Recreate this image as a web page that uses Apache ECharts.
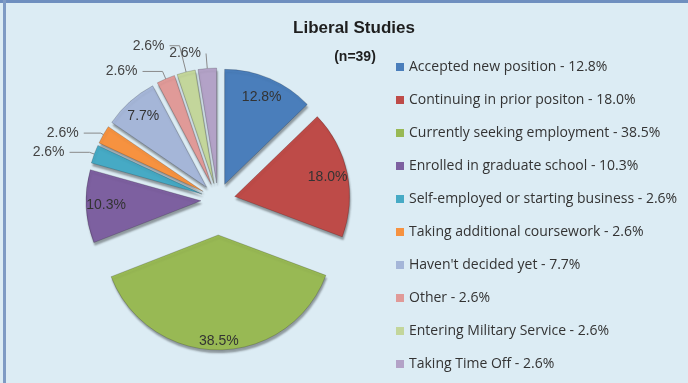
<!DOCTYPE html>
<html><head><meta charset="utf-8">
<script src="https://cdn.jsdelivr.net/npm/echarts@6/dist/echarts.min.js"></script>
<style>html,body{margin:0;padding:0;background:#dcecf4;}#c{width:688px;height:383px;}</style>
</head><body><div id="c"></div>
<script>
const categories = ["Accepted new position","Continuing in prior positon","Currently seeking employment","Enrolled in graduate school","Self-employed or starting business","Taking additional coursework","Haven't decided yet","Other","Entering Military Service","Taking Time Off"];
const values = [12.8,18.0,38.5,10.3,2.6,2.6,7.7,2.6,2.6,2.6];
const colors = ["#4a7ebb","#be4b48","#98b954","#7d60a0","#46aac5","#f69240","#a5b6d8","#e09a98","#c3d69b","#b3a2c7"];
const insideLabels = [true,true,true,true,false,false,true,false,false,false];
const farSlice = [false,false,true,false,false,false,false,false,false,false]; // exploded further
// leader-line lengths [radial, horizontal] for outside labels
const leaderLen = [[0,0],[0,0],[0,0],[0,0],[5,20],[3,17],[0,0],[8,20],[27,10],[15,0]];

const R = 115, CX = 218, CY = 200, OFF_NEAR = 17, OFF_FAR = 35;
const fmt = p => p.value.toFixed(1) + '%';
const labelFont = {fontFamily:'Liberation Sans', fontSize:14, color:'#333'};

function sliceSeries(far){
  return {
    type:'pie', center:[CX,CY], radius:[0,R], startAngle:90, clockwise:true, silent:true,
    selectedMode:'multiple', selectedOffset: far ? OFF_FAR : OFF_NEAR,
    avoidLabelOverlap:false,
    emphasis:{disabled:true},
    label:Object.assign({formatter:fmt}, labelFont, {color:'#444'}),
    labelLine:{length:10,length2:10,lineStyle:{color:'#8a8a8a'}},
    labelLayout:{hideOverlap:false},
    data: categories.map((n,i)=>{
      const mine = farSlice[i] === far;
      return {
        name:n, value:values[i], selected:true,
        itemStyle: mine ? {color:colors[i], borderColor:'rgba(0,0,0,0.18)', borderWidth:1,
                           shadowColor:'rgba(0,0,0,0.35)', shadowBlur:2, shadowOffsetX:1, shadowOffsetY:3}
                        : {color:'transparent', borderWidth:0},
        label:{show: mine && !insideLabels[i], position:'outside'},
        labelLine:{show: mine && !insideLabels[i], length:leaderLen[i][0], length2:leaderLen[i][1]}
      };
    })
  };
}
function labelSeries(far){
  return {
    type:'pie', center:[CX,CY], radius: far ? [R*0.7,R*1.1] : [R*0.55,R*1.05], startAngle:90, clockwise:true, silent:true,
    selectedMode:'multiple', selectedOffset: far ? OFF_FAR : OFF_NEAR,
    avoidLabelOverlap:false,
    emphasis:{disabled:true}, z:5,
    label:Object.assign({formatter:fmt, position:'inside'}, labelFont),
    labelLine:{show:false},
    itemStyle:{color:'transparent', borderWidth:0},
    data: categories.map((n,i)=>({
      name:n, value:values[i], selected:true,
      label:{show: insideLabels[i] && farSlice[i] === far}
    }))
  };
}

const chart = echarts.init(document.getElementById('c'));
chart.setOption({
  backgroundColor:'#dcecf4',
  animation:false,
  title:[
    {text:'Liberal Studies', left:349, top:15, textAlign:'center', textStyle:{fontFamily:'Liberation Sans',fontWeight:'bold',fontSize:17,color:'#1e1e1e'}},
    {text:'(n=39)', left:350, top:45, textAlign:'center', textStyle:{fontFamily:'Liberation Sans',fontWeight:'bold',fontSize:14,color:'#1e1e1e'}}
  ],
  graphic:[
    {type:'rect', shape:{x:0,y:0,width:688,height:3}, style:{fill:'#6f8fbf'}},
    {type:'rect', shape:{x:3,y:0,width:3,height:383}, style:{fill:'#7f9bc4'}}
  ],
  legend:{
    orient:'vertical', left:391, top:54, itemWidth:8, itemHeight:8, itemGap:17,
    icon:'rect', selectedMode:false,
    textStyle:{fontFamily:'Open Sans',fontSize:14,color:'#333',lineHeight:16},
    formatter:function(name){const i=categories.indexOf(name);return name+' - '+values[i].toFixed(1)+'%';},
    data: categories.map((n,i)=>({name:n, itemStyle:{color:colors[i], opacity:1, borderWidth:0, shadowBlur:0, shadowOffsetX:0, shadowOffsetY:0}}))
  },
  series:[sliceSeries(false), sliceSeries(true), labelSeries(false), labelSeries(true)]
});
</script></body></html>
